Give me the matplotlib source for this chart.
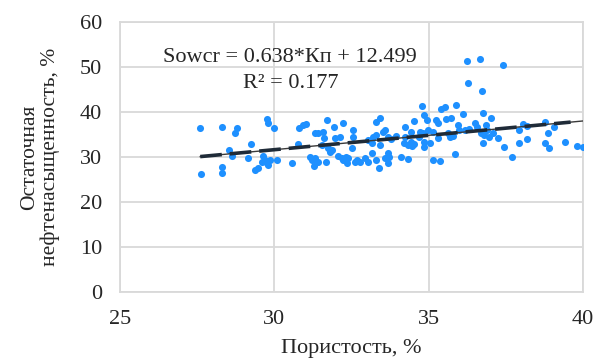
import matplotlib.pyplot as plt
import numpy as np

# porosity (%) and residual oil saturation (%) of the core samples
porosity = [
    27.60, 28.31, 28.80, 28.73, 29.77, 29.81, 30.00, 28.54, 28.64, 29.25,
    29.16, 29.64, 29.71, 29.61, 29.77, 29.87, 29.38, 29.48, 29.81, 27.63,
    28.31, 28.31, 30.81, 30.94, 31.04, 31.33, 31.59, 31.72, 31.62, 31.92,
    32.21, 31.98, 32.14, 32.56, 30.58, 30.78, 31.17, 31.27, 31.33, 31.66,
    31.56, 31.75, 31.82, 32.05, 32.18, 32.31, 32.40, 32.63, 30.10, 31.43,
    32.56, 33.28, 33.44, 33.21, 33.28, 33.51, 33.67, 31.88, 32.53, 33.05,
    33.18, 31.23, 31.40, 32.21, 32.37, 32.69, 32.79, 32.95, 33.05, 33.18,
    33.28, 33.38, 33.60, 33.67, 36.23, 36.66, 37.40, 36.27, 36.72, 34.77,
    35.39, 35.52, 35.88, 36.10, 36.75, 37.01, 34.84, 34.94, 35.23, 35.29,
    35.55, 35.71, 34.51, 34.22, 34.97, 35.94, 35.97, 36.49, 36.56, 36.85,
    36.88, 38.05, 38.77, 39.06, 38.86, 37.92, 34.42, 34.71, 34.81, 35.13,
    35.62, 35.68, 36.17, 36.69, 36.79, 36.95, 37.08, 37.24, 38.18, 33.77,
    34.19, 34.32, 34.45, 34.51, 34.84, 34.84, 35.06, 33.44, 33.67, 33.73,
    36.75, 37.44, 37.92, 38.77, 38.90, 39.42, 39.81, 40.00, 35.84, 37.69,
    34.12, 34.32, 35.13, 35.36, 33.93, 34.68, 35.29, 35.78, 36.30, 38.18,
    33.60, 34.25, 34.42,
]
oil_saturation = [
    36.44, 36.67, 36.44, 35.33, 38.44, 37.56, 36.44, 31.56, 30.22, 32.89,
    29.78, 30.22, 29.33, 28.89, 28.67, 29.33, 27.11, 27.56, 28.22, 26.22,
    27.78, 26.44, 36.44, 37.11, 37.33, 35.33, 35.56, 38.22, 34.22, 36.67,
    37.56, 34.22, 34.44, 36.00, 28.67, 32.89, 30.00, 28.00, 29.78, 28.89,
    32.67, 32.00, 31.11, 30.22, 29.78, 30.00, 29.78, 28.89, 29.33, 35.33,
    34.44, 37.78, 38.67, 34.44, 34.89, 35.56, 34.44, 31.56, 32.00, 33.78,
    33.11, 29.33, 28.89, 29.33, 28.67, 29.33, 28.89, 29.78, 28.89, 30.89,
    29.33, 27.56, 29.78, 28.67, 51.33, 51.78, 50.44, 46.44, 44.67, 41.33,
    40.67, 41.11, 41.56, 39.56, 39.78, 38.67, 39.33, 38.22, 38.22, 37.56,
    38.44, 38.67, 38.00, 36.67, 36.00, 37.11, 36.00, 37.56, 36.67, 37.11,
    36.00, 37.33, 37.78, 36.67, 35.33, 36.00, 35.56, 35.56, 35.33, 35.56,
    35.33, 34.44, 36.00, 35.33, 34.89, 34.44, 35.33, 34.22, 34.00, 34.00,
    33.11, 32.67, 32.44, 32.89, 33.33, 32.22, 33.11, 32.67, 30.89, 30.00,
    33.11, 32.22, 33.11, 33.11, 32.00, 33.33, 32.44, 32.22, 30.67, 30.00,
    30.00, 29.56, 29.33, 29.11, 34.67, 34.44, 34.22, 34.67, 36.22, 36.89,
    36.00, 34.44, 33.33,
]

# linear trend reported on the chart
slope, intercept, r2 = 0.638, 12.499, 0.177

x_ticks = [25, 30, 35, 40]
y_ticks = [0, 10, 20, 30, 40, 50, 60]

plt.rcParams['font.family'] = ['Liberation Serif', 'DejaVu Serif']

fig = plt.figure(figsize=(5.97, 3.58), dpi=100)
ax = fig.add_axes([0.201, 0.184, 0.7755, 0.7545])

ax.scatter(porosity, oil_saturation, s=26, color='#1e90ff', linewidths=0, zorder=3)

x_fit = np.array([min(porosity), max(porosity)])
ax.plot(x_fit, slope * x_fit + intercept, color='#3a3a3a', lw=1.0, zorder=4)
x_dash = np.array([min(porosity), 39.6])
ax.plot(x_dash, slope * x_dash + intercept, color='#1f2b38', lw=2.6,
        dashes=(6.0, 2.2), solid_capstyle='butt', zorder=5)

ax.text(30.52, 49.2, 'Sowcr = %.3f*Кп + %.3f\nR² = %.3f' % (slope, intercept, r2),
        ha='center', va='center', multialignment='center', fontsize=16,
        linespacing=1.45, color='#262626', zorder=6)

ax.set_xlim(25, 40)
ax.set_ylim(0, 60)
ax.set_xticks(x_ticks)
ax.set_yticks(y_ticks)
ax.tick_params(length=0, labelsize=16, pad=13, colors='#262626')
ax.grid(True, color='#d9d9d9', lw=1.3)
ax.set_axisbelow(True)
for sp in ax.spines.values():
    sp.set_color('#d9d9d9')
    sp.set_linewidth(1.3)

ax.set_xlabel('Пористость, %', fontsize=16, color='#262626', labelpad=7)
ax.set_ylabel('Остаточная\nнефтенасыщенность, %', fontsize=15.5, color='#262626',
              labelpad=14, linespacing=1.1)

fig.savefig('out.png', dpi=100)
